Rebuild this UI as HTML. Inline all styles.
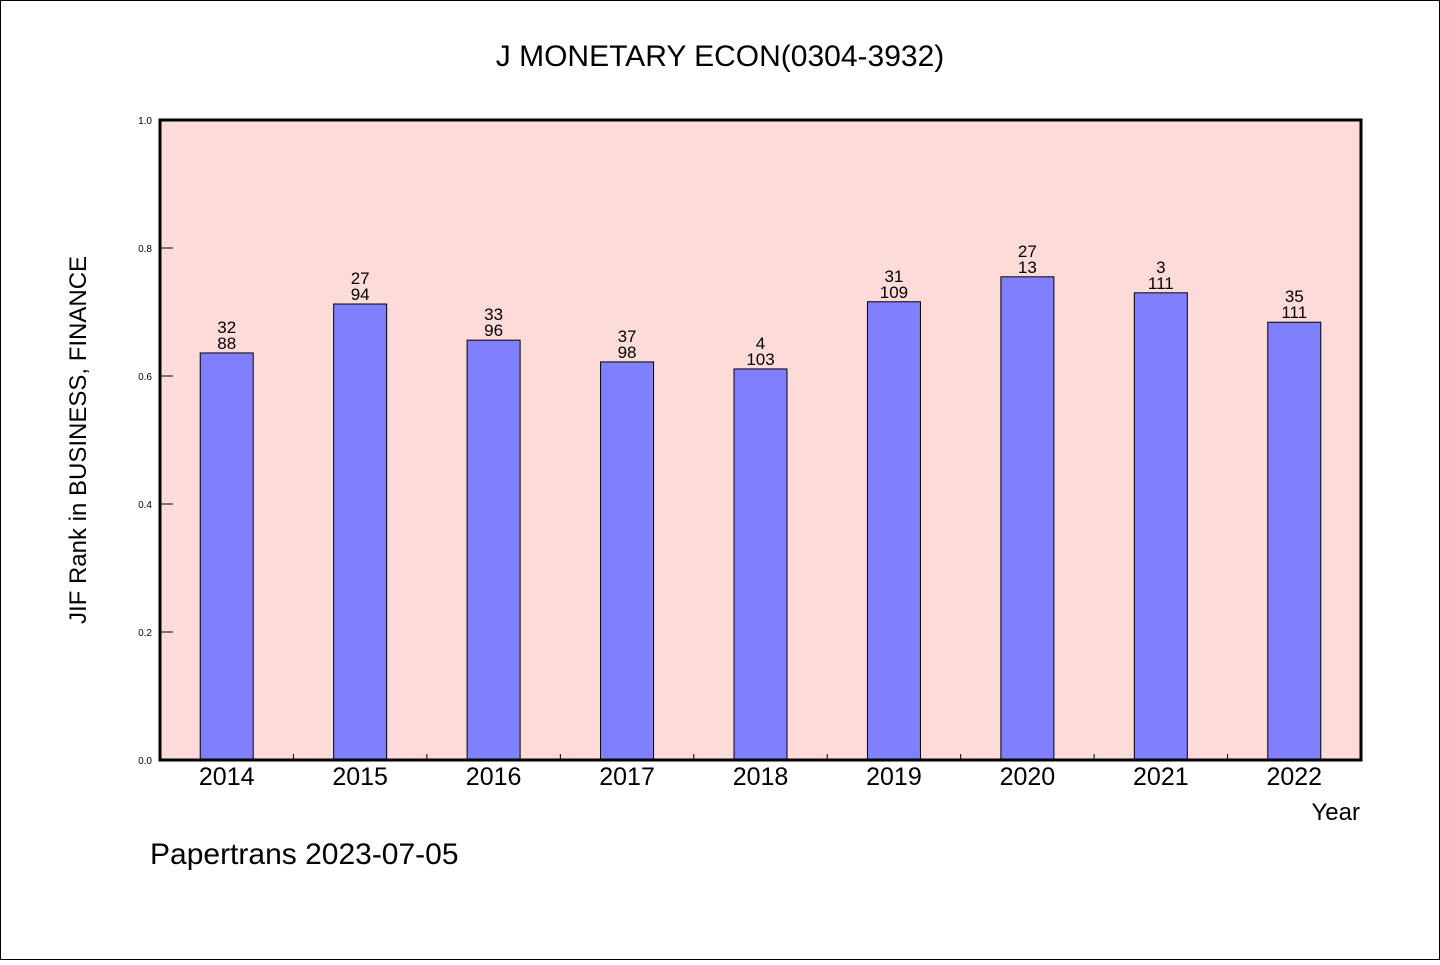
<!DOCTYPE html>
<html><head><meta charset="utf-8"><style>
body{margin:0;background:#fff;}
svg text{font-family:"WenQuanYi Zen Hei","Liberation Sans",sans-serif;fill:#000;}
</style></head><body>
<svg id="c" width="1440" height="960" xmlns="http://www.w3.org/2000/svg">
<rect x="0.5" y="0.5" width="1439" height="959" fill="#fff" stroke="#000"/>
<text x="720" y="66" font-size="30" text-anchor="middle">J MONETARY ECON(0304-3932)</text>
<rect x="160" y="120" width="1201" height="640" fill="#fddbd8"/>
<g id="marks"></g>
<rect x="160" y="120" width="1201" height="640" fill="none" stroke="#000" stroke-width="3"/>
<text transform="translate(86,440) rotate(-90)" font-size="24" text-anchor="middle">JIF Rank in BUSINESS, FINANCE</text>
<text x="1360" y="820" font-size="24" text-anchor="end">Year</text>
<text x="150" y="864" font-size="30">Papertrans 2023-07-05</text>
</svg>
<script>
const years=["2014","2015","2016","2017","2018","2019","2020","2021","2022"];
const values=[0.636,0.7125,0.656,0.622,0.611,0.716,0.755,0.730,0.684];
const ranks=["32","27","33","37","4","31","27","3","35"];
const totals=["88","94","96","98","103","109","13","111","111"];
const yTicks=[0,0.2,0.4,0.6,0.8,1.0];
const NS="http://www.w3.org/2000/svg";
const X0=160,W=1201,Y0=760,H=640;
const step=W/years.length;
const xc=i=>X0+step*(i+0.5);
const y=v=>Y0-v*H;
const g=document.getElementById('marks');
function mk(t,a){const e=document.createElementNS(NS,t);for(const k in a)e.setAttribute(k,a[k]);g.appendChild(e);return e;}
yTicks.forEach(v=>{
  const l=mk('line',{x1:X0,x2:X0+13,y1:y(v),y2:y(v),stroke:'#000','stroke-width':1});
  
  
  const t=mk('text',{x:152,y:y(v)+4,'font-size':10,'text-anchor':'end'});
  t.textContent=v.toFixed(1);
  
  
});
for(let i=1;i<years.length;i++){
  const l=mk('line',{x1:X0+step*i,x2:X0+step*i,y1:Y0,y2:Y0-6,stroke:'#000','stroke-width':1});
  
  
}
years.forEach((yr,i)=>{
  const bw=53;
  const b=mk('rect',{x:xc(i)-bw/2,y:y(values[i]),width:bw,height:Y0-y(values[i]),fill:'#8080ff',stroke:'#000','stroke-width':1});
  
  
  const t1=mk('text',{x:xc(i),y:y(values[i])-20,'font-size':17,'text-anchor':'middle'});
  t1.textContent=ranks[i];
  
  
  const t2=mk('text',{x:xc(i),y:y(values[i])-4,'font-size':17,'text-anchor':'middle'});
  t2.textContent=totals[i];
  
  
  const t3=mk('text',{x:xc(i),y:785,'font-size':25,'text-anchor':'middle'});
  t3.textContent=yr;
  
  
});
</script>
</body></html>
